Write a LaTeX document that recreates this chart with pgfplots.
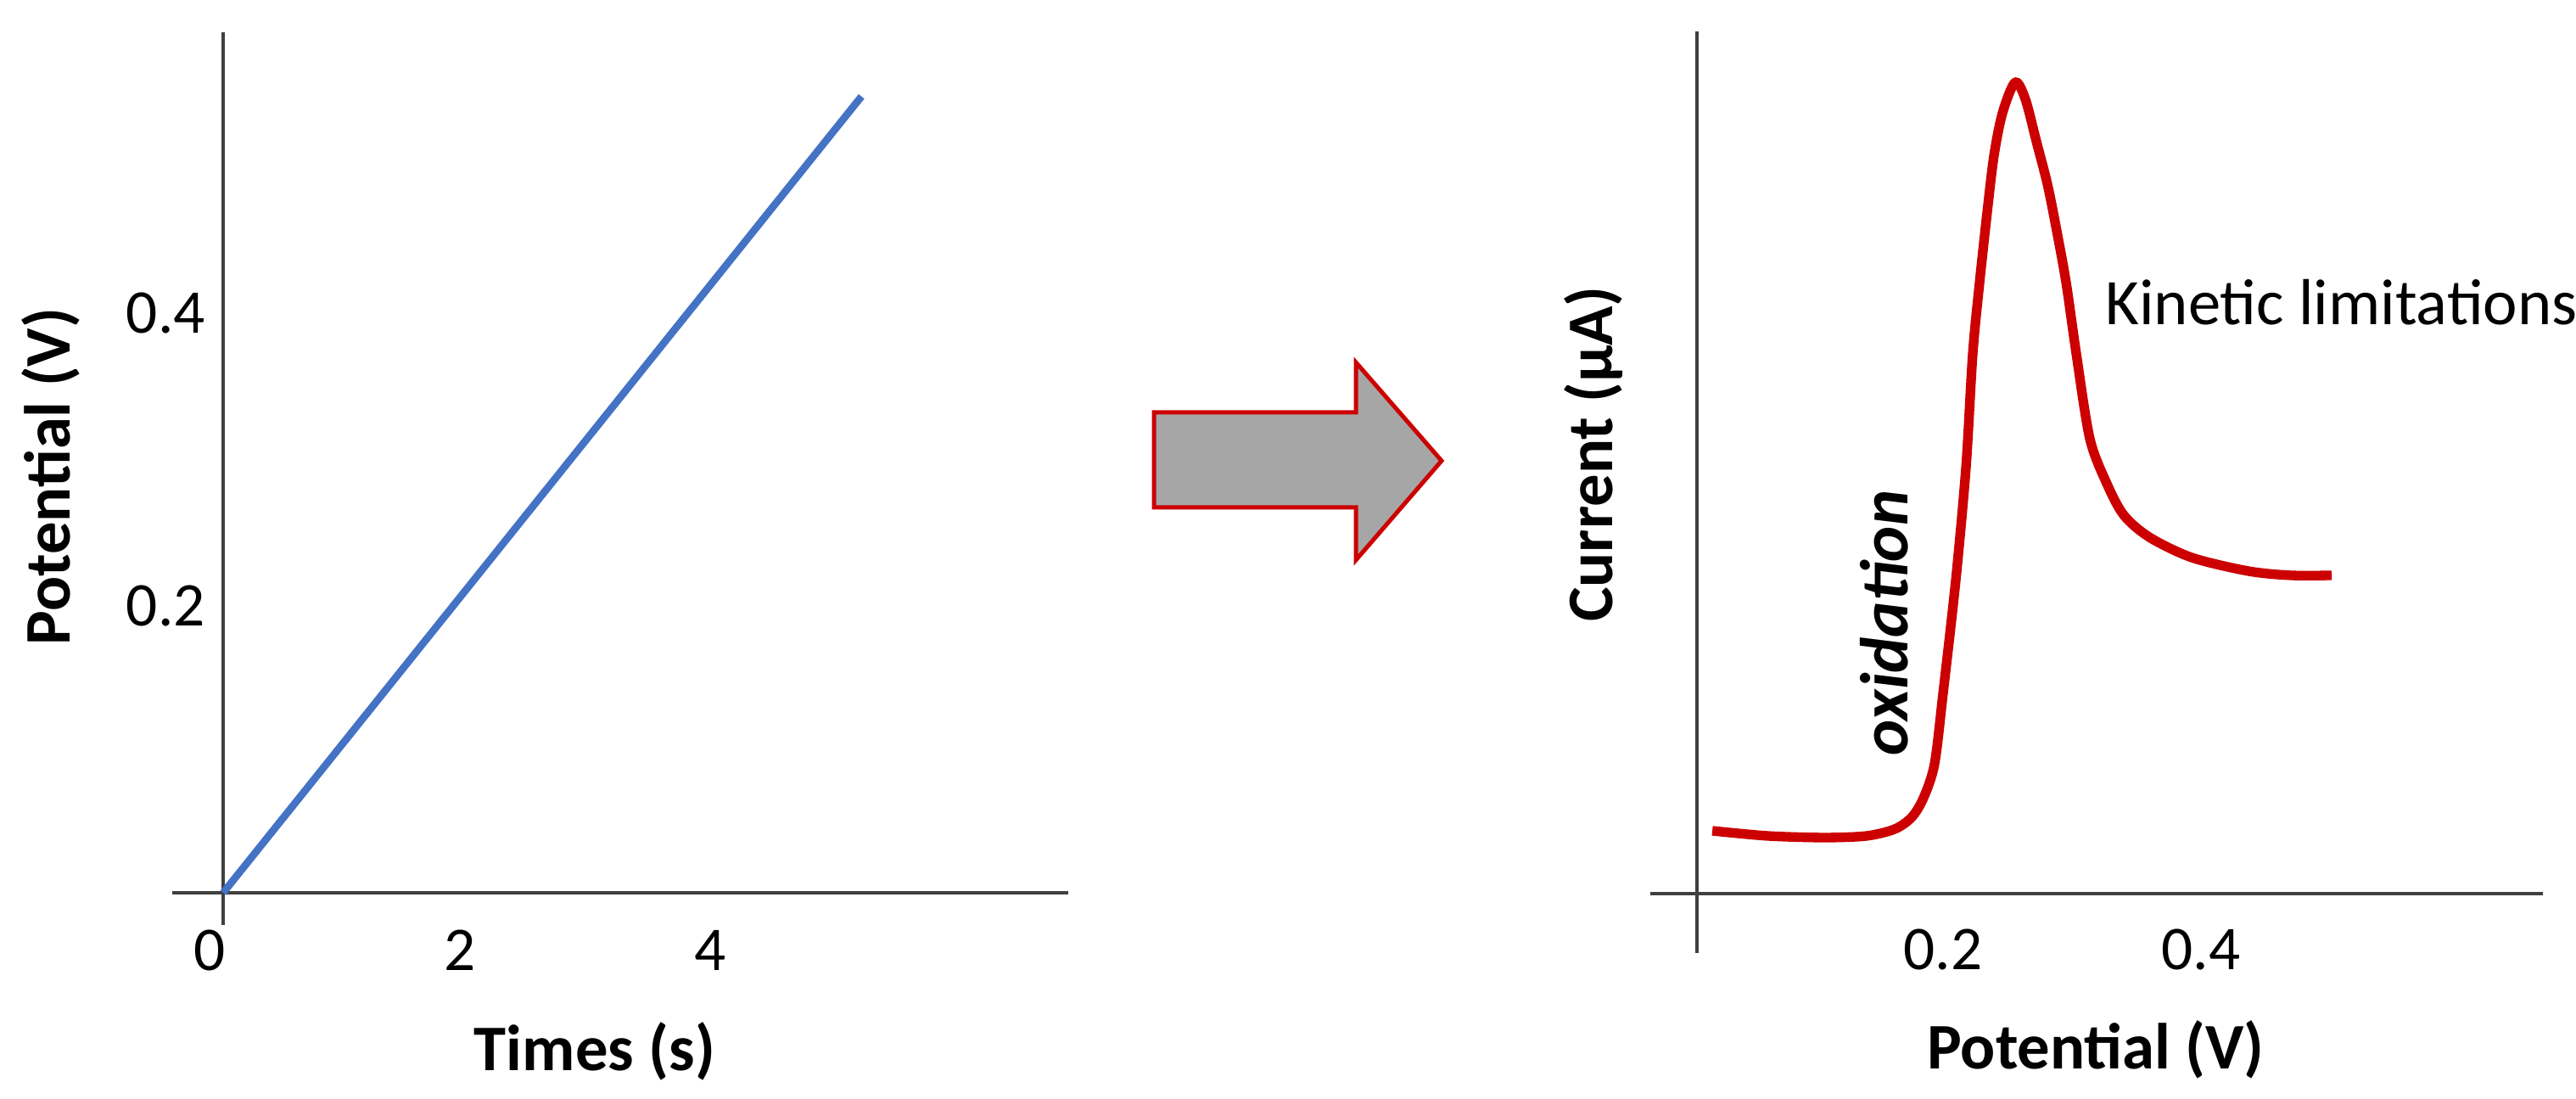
\documentclass[border=0pt]{standalone}
\usepackage{fontspec}
\setmainfont{Carlito}
\usepackage{pgfplots}
\pgfplotsset{compat=1.18}

\definecolor{rampblue}{RGB}{68,114,196}
\definecolor{peakred}{RGB}{204,0,0}
\definecolor{axisgray}{RGB}{64,64,64}
\definecolor{arrowgray}{RGB}{166,166,166}

\pgfplotsset{
  sketch/.style={
    axis lines=middle,
    axis line style={axisgray, line width=0.6pt, -},
    every inner x axis line/.append style={-},
    every inner y axis line/.append style={-},
    hide obscured x ticks=false,
    hide obscured y ticks=false,
    major tick length=0pt,
    scale only axis,
    clip=false,
    enlargelimits=false,
    /pgf/number format/assume math mode=true,
    tick label style={font=\fontsize{11}{13}\selectfont, text=black},
    anchor=south west,
  },
}

\begin{document}
\begin{tikzpicture}
\path[use as bounding box] (0,0) rectangle (455.4pt,194.25pt);

% left: potential ramp
\begin{axis}[sketch, at={(30.45pt,30.75pt)}, x=22.125pt, y=258.75pt,
  xmin=-0.407, xmax=6.75, ymin=-0.022, ymax=0.588,
  xtick={0,2,4}, ytick={0.2,0.4},
  xticklabel style={anchor=center, xshift=-2.4pt, yshift=-10.2pt},
  yticklabel style={anchor=east, inner sep=0pt, xshift=-3pt, yshift=-1pt},
]
\addplot[rampblue, line width=1.3pt] coordinates {(0,0) (5.10,0.544)};
\end{axis}

% right: current response
\begin{axis}[sketch, at={(291.75pt,25.8pt)}, x=228pt, y=15pt,
  xmin=-0.027, xmax=0.665, ymin=-0.70, ymax=10.16,
  xtick={0.2,0.4}, ytick=\empty,
  y axis line style={draw=none},
  xticklabel style={anchor=center, yshift=-9.9pt},
]
\draw[axisgray, line width=0.6pt] (axis cs:0.0092,-0.70) -- (axis cs:0.0092,10.16);
\addplot[peakred, line width=1.7pt, smooth, tension=0.5, line join=round] coordinates {
  (0.0211,0.74) (0.0638,0.68) (0.1079,0.66) (0.1408,0.68) (0.1625,0.76)
  (0.1757,0.90) (0.1849,1.13) (0.1934,1.53) (0.2000,2.36) (0.2099,3.70)
  (0.2178,5.03) (0.2230,6.36) (0.2283,7.20) (0.2342,8.03) (0.2395,8.70)
  (0.2461,9.20) (0.2559,9.56) (0.2638,9.36) (0.2724,8.86) (0.2809,8.36)
  (0.2875,7.86) (0.2954,7.20) (0.3033,6.36) (0.3138,5.36) (0.3270,4.83)
  (0.3401,4.46) (0.3599,4.20) (0.3928,3.96) (0.4368,3.80) (0.4697,3.75)
  (0.5013,3.75)
};
\end{axis}

% labels
\node[font=\fontsize{11.5}{14}\selectfont\bfseries, anchor=base] at (105.15pt,4.95pt) {Times (s)};
\node[font=\fontsize{11.5}{14}\selectfont\bfseries, anchor=base, rotate=90] at (12.45pt,110pt) {Potential (V)};
\node[font=\fontsize{11.5}{14}\selectfont\bfseries, anchor=base] at (370.5pt,5.25pt) {Potential (V)};
\node[font=\fontsize{11.5}{14}\selectfont\bfseries, anchor=base, rotate=90] at (285pt,114pt) {Current (µA)};
\node[font=\fontsize{11.5}{13}\selectfont, anchor=base west, inner sep=0pt] at (372pt,136.8pt) {Kinetic limitations};
\node[font=\fontsize{12}{14}\selectfont\bfseries\itshape, anchor=base, rotate=90] at (337.2pt,84.15pt) {oxidation};

% block arrow between the panels
\draw[fill=arrowgray, draw=peakred, line width=0.75pt, line join=miter]
  (204pt,121.35pt) -- (239.7pt,121.35pt) -- (239.7pt,130.2pt) -- (254.85pt,112.8pt)
  -- (239.7pt,95.25pt) -- (239.7pt,104.55pt) -- (204pt,104.55pt) -- cycle;
\end{tikzpicture}
\end{document}
